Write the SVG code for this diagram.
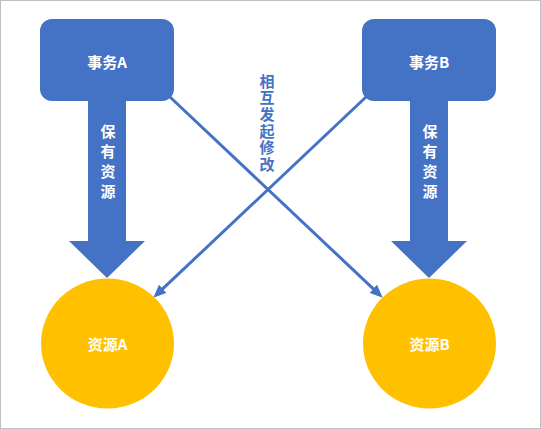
<svg xmlns="http://www.w3.org/2000/svg" width="541" height="429" viewBox="0 0 541 429">
<style>
.box{fill:#4472C4}
.res{fill:#FFC000}
.lbl{font-family:"Noto Sans CJK SC","Liberation Sans",sans-serif;font-weight:bold;font-size:15px;fill:#FFFFFF;text-anchor:middle;dominant-baseline:central}
.vert{font-family:"Noto Sans CJK SC","Liberation Sans",sans-serif;font-weight:bold;font-size:15px;fill:#FFFFFF;writing-mode:vertical-rl;text-anchor:start;dominant-baseline:central}
.link{stroke:#4472C4;stroke-width:3;fill:none}
</style>
<defs>
<marker id="arr" markerUnits="userSpaceOnUse" markerWidth="13" markerHeight="11" refX="6" refY="5.5" orient="auto" viewBox="0 0 13 11">
<path d="M0,0 L13,5.5 L0,11 z" fill="#4472C4"/>
</marker>
</defs>
<rect x="0.5" y="0.5" width="540" height="428" fill="#FFFFFF" stroke="#BFBFBF" stroke-width="1"/>
<g id="connectors">
<line class="link" x1="170" y1="97" x2="377.6" y2="292.9" marker-end="url(#arr)"/>
<line class="link" x1="366" y1="97" x2="158.4" y2="292.9" marker-end="url(#arr)"/>
<polygon class="box" points="88,100 126,100 126,241 145,241 107,278 69,241 88,241"/>
<polygon class="box" points="410,100 448,100 448,241 467,241 429,278 391,241 410,241"/>
</g>
<g id="txA">
<rect class="box" x="40" y="19" width="134" height="82" rx="12"/>
<text class="lbl" x="107" y="61">事务A</text>
</g>
<g id="txB">
<rect class="box" x="362" y="19" width="134" height="82" rx="12"/>
<text class="lbl" x="429" y="61">事务B</text>
</g>
<g id="resA">
<ellipse class="res" cx="107.5" cy="343.5" rx="66.5" ry="65"/>
<text class="lbl" x="107.5" y="343">资源A</text>
</g>
<g id="resB">
<ellipse class="res" cx="429.5" cy="343.5" rx="66.5" ry="65"/>
<text class="lbl" x="429.5" y="343">资源B</text>
</g>
<g id="labelA">
<text class="vert" x="108" y="123.5" style="letter-spacing:5px">保有资源</text>
</g>
<g id="labelB">
<text class="vert" x="430" y="123.5" style="letter-spacing:5px">保有资源</text>
</g>
<g id="labelX">
<text class="vert" x="267" y="73.5" style="letter-spacing:1.7px;fill:#4472C4">相互发起修改</text>
</g>
</svg>
